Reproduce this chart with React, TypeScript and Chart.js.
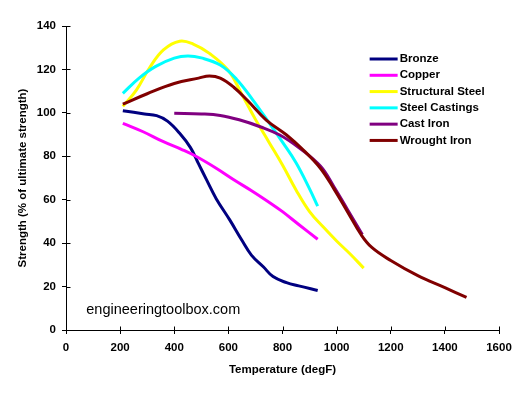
import React, { useEffect, useRef } from "react";
import { Chart, registerables } from "chart.js";

Chart.register(...registerables);

const seriesNames = ["Bronze", "Copper", "Structural Steel", "Steel Castings", "Cast Iron", "Wrought Iron"];
const seriesColors = ["#000080", "#FF00FF", "#FFFF00", "#00FFFF", "#800080", "#800000"];

const bronzeTemp = [210, 290, 335, 375, 420, 460, 490, 520, 555, 605, 650, 685, 730, 765, 815, 860, 930];
const bronzeStrength = [101, 99.5, 98.7, 96.2, 90.6, 84, 76.5, 69, 60.5, 50.7, 41.3, 34.5, 29, 24.6, 21.8, 20.3, 18.2];

const copperTemp = [210, 285, 360, 430, 480, 555, 620, 690, 765, 800, 860, 930];
const copperStrength = [95.2, 91.3, 86.7, 83, 80, 74.5, 69.2, 63.8, 57.6, 54.5, 48.6, 41.8];

const structuralTemp = [210, 260, 310, 360, 420, 470, 530, 600, 650, 700, 750, 800, 850, 900, 950, 1000, 1050, 1100];
const structuralStrength = [103, 110.5, 121, 129, 133, 131.7, 127.4, 119.5, 108.5, 97, 86.5, 76, 64.5, 54.5, 47.5, 41, 35, 28.5];

const castingsTemp = [210, 270, 330, 400, 450, 500, 570, 630, 690, 750, 800, 850, 900, 930];
const castingsStrength = [109, 116, 121.3, 125.2, 126.2, 125.3, 122, 115.5, 106, 95.5, 86.5, 77, 65, 57];

const castIronTemp = [400, 500, 570, 640, 720, 790, 860, 940, 990, 1040, 1095];
const castIronStrength = [99.8, 99.5, 98.8, 96.8, 93.5, 89.8, 84, 75.5, 66, 55.5, 44];

const wroughtTemp = [210, 300, 400, 490, 530, 570, 620, 670, 740, 815, 880, 940, 990, 1040, 1090, 1130, 1200, 1300, 1400, 1480];
const wroughtStrength = [104, 108.8, 113.5, 116, 117, 116, 111.8, 105.8, 96.7, 89.8, 82.5, 74.5, 65, 54.5, 44, 38, 32, 25, 19.5, 15];

const seriesTemps = [bronzeTemp, copperTemp, structuralTemp, castingsTemp, castIronTemp, wroughtTemp];
const seriesStrengths = [bronzeStrength, copperStrength, structuralStrength, castingsStrength, castIronStrength, wroughtStrength];

const xTitle = "Temperature (degF)";
const yTitle = "Strength (% of ultimate strength)";
const watermark = "engineeringtoolbox.com";

const FONT = "'Liberation Sans', Arial, sans-serif";

const extrasPlugin = {
  id: "extras",
  afterDraw(chart: any) {
    const ctx = chart.ctx;
    const xs = chart.scales.x;
    const ys = chart.scales.y;
    const area = chart.chartArea;
    ctx.save();
    // inner halves of crossing tick marks
    ctx.strokeStyle = "#000";
    ctx.lineWidth = 1;
    ctx.beginPath();
    xs.ticks.forEach((t: any) => {
      const px = Math.round(xs.getPixelForValue(t.value)) + 0.5;
      ctx.moveTo(px, Math.round(area.bottom) + 0.5);
      ctx.lineTo(px, Math.round(area.bottom) - 3.5);
    });
    ys.ticks.forEach((t: any) => {
      const py = Math.round(ys.getPixelForValue(t.value)) + 0.5;
      ctx.moveTo(Math.round(area.left) + 0.5, py);
      ctx.lineTo(Math.round(area.left) + 4.5, py);
    });
    ctx.stroke();

    // legend
    const lx = xs.getPixelForValue(1122);
    ctx.font = `bold 11.5px ${FONT}`;
    ctx.textBaseline = "middle";
    ctx.textAlign = "left";
    chart.data.datasets.forEach((ds: any, i: number) => {
      const y = ys.getPixelForValue(124.8 - i * 7.5);
      ctx.strokeStyle = ds.borderColor;
      ctx.lineWidth = 3;
      ctx.beginPath();
      ctx.moveTo(lx, y);
      ctx.lineTo(lx + 28, y);
      ctx.stroke();
      ctx.fillStyle = "#000";
      ctx.fillText(ds.label, lx + 30, y);
    });

    // watermark
    ctx.font = `14.5px ${FONT}`;
    ctx.textBaseline = "alphabetic";
    ctx.fillStyle = "#000";
    ctx.fillText(watermark, xs.getPixelForValue(75), ys.getPixelForValue(7.3));
    ctx.restore();
  },
};

export default function App() {
  const canvasRef = useRef<HTMLCanvasElement | null>(null);

  useEffect(() => {
    document.body.style.margin = "0";
    const canvas = canvasRef.current;
    if (!canvas) return;
    const datasets = seriesNames.map((name, i) => ({
      label: name,
      data: seriesTemps[i].map((t, j) => ({ x: t, y: seriesStrengths[i][j] })),
      borderColor: seriesColors[i],
      backgroundColor: seriesColors[i],
      borderWidth: 3,
      pointRadius: 0,
      pointHoverRadius: 0,
      fill: false,
      tension: 0.4,
      order: seriesNames.length - i,
    }));
    const chart = new Chart(canvas, {
      type: "line",
      data: { datasets },
      options: {
        animation: false,
        responsive: false,
        maintainAspectRatio: false,
        layout: { padding: { top: 26, right: 32, left: 0, bottom: 0 } },
        plugins: {
          legend: { display: false },
          tooltip: { enabled: false },
        },
        scales: {
          x: {
            type: "linear",
            min: 0,
            max: 1600,
            ticks: {
              stepSize: 200,
              color: "#000",
              font: { family: FONT, size: 11.5, weight: "bold" },
              padding: 7,
              maxRotation: 0,
              callback: (v: any) => String(v),
            },
            grid: { display: true, drawOnChartArea: false, drawTicks: true, tickLength: 4, color: "#000" },
            border: { display: true, color: "#000" },
            title: {
              display: true,
              text: xTitle,
              color: "#000",
              font: { family: FONT, size: 11.5, weight: "bold" },
              padding: { top: 0, bottom: 17 },
            },
            afterFit: (s: any) => {
              s.height = 64;
            },
          },
          y: {
            type: "linear",
            min: 0,
            max: 140,
            ticks: {
              stepSize: 20,
              color: "#000",
              font: { family: FONT, size: 11.5, weight: "bold" },
              padding: 6,
              callback: (v: any) => String(v),
            },
            grid: { display: true, drawOnChartArea: false, drawTicks: true, tickLength: 4, color: "#000" },
            border: { display: true, color: "#000" },
            title: {
              display: true,
              text: yTitle,
              color: "#000",
              font: { family: FONT, size: 11.5, weight: "bold" },
              padding: { top: 15.5, bottom: 0 },
            },
            afterFit: (s: any) => {
              s.width = 66;
            },
          },
        },
      },
      plugins: [extrasPlugin],
    });
    return () => chart.destroy();
  }, []);

  return (
    <div style={{ width: 531, height: 394 }}>
      <canvas ref={canvasRef} width={531} height={394} style={{ display: "block" }} />
    </div>
  );
}
